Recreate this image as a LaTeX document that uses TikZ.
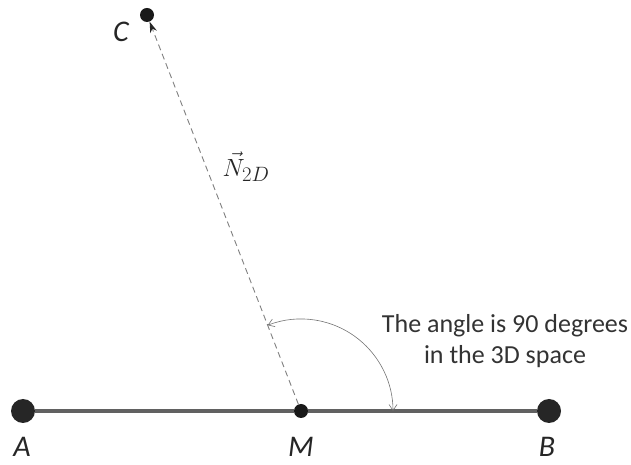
\documentclass[tikz,border=0pt]{standalone}
\usepackage{fontspec}
\setmainfont{Carlito}
\usetikzlibrary{arrows.meta}
\begin{document}
\begin{tikzpicture}[x=1pt,y=1pt,
  bigdot/.style={circle,fill=black!85,inner sep=0pt,minimum size=24pt},
  smalldot/.style={circle,fill=black!90,inner sep=0pt,minimum size=14pt},
  lbl/.style={font=\fontsize{30}{34}\selectfont\itshape,text=black!85,inner sep=0pt},
  note/.style={font=\fontsize{26}{31}\selectfont,text=black!80,align=center},
  baseline/.style={draw=black!62,line width=3.5pt},
  normal/.style={draw=black!50,dash pattern=on 6pt off 4pt,line width=0.9pt},
  anglearc/.style={draw=black!55,line width=0.6pt}]
\useasboundingbox (0,0) rectangle (631,465);
\node[bigdot] (A) at (23,54) {};
\node[bigdot] (B) at (549,54) {};
\node[smalldot] (M) at (301,54) {};
\node[smalldot] (C) at (147,450) {};
\draw[baseline] (A) -- (M);
\draw[baseline] (M) -- (B);
\draw[normal,-{Stealth[length=11pt,width=7pt,color=black!85,fill=black!85]}] (M) -- (C);
\draw[anglearc,{Straight Barb[length=6pt,width=8pt]}-{Straight Barb[length=6pt,width=8pt]}]
  ([shift={(111.25:92)}]M.center) arc[start angle=111.25,end angle=0,radius=92];
\node[lbl] (la) at (22,18) {A};
\node[lbl] (lm) at (301,18) {M};
\node[lbl] (lb) at (547,18) {B};
\node[lbl] (lc) at (121,433) {C};
\node[font=\fontsize{30}{34}\selectfont,text=black!85] (n) at (246,298) {$\vec{N}_{2D}$};
\node[note] (t) at (505,124) {The angle is 90 degrees\\in the 3D space};
\end{tikzpicture}
\end{document}
